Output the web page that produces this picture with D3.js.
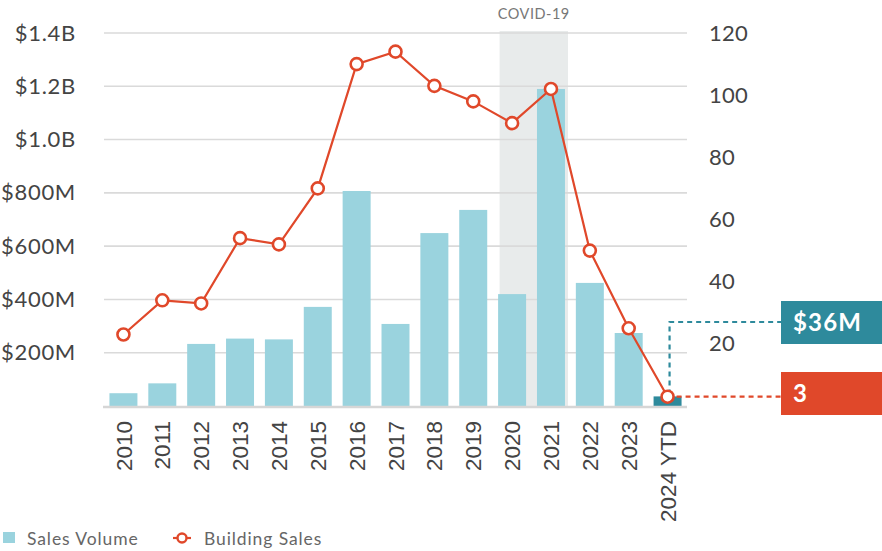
<!DOCTYPE html>
<html>
<head>
<meta charset="utf-8">
<script src="https://cdn.jsdelivr.net/npm/d3@7"></script>
<style>
  body { margin: 0; background: #fff; }
  svg { display: block; }
</style>
</head>
<body>
<svg id="chart" width="882" height="551"></svg>
<script>
// Annual sales volume (USD) and number of building sales
const years = ["2010","2011","2012","2013","2014","2015","2016","2017","2018","2019","2020","2021","2022","2023","2024 YTD"];
const salesVolume = [48e6, 85e6, 233e6, 253e6, 250e6, 372e6, 807e6, 308e6, 649e6, 736e6, 420e6, 1190e6, 462e6, 274e6, 36e6];
const buildingSales = [23, 34, 33, 54, 52, 70, 110, 114, 103, 98, 91, 102, 50, 25, 3];
const volumeTicks = [200e6, 400e6, 600e6, 800e6, 1.0e9, 1.2e9, 1.4e9];
const volumeTickLabels = ["$200M", "$400M", "$600M", "$800M", "$1.0B", "$1.2B", "$1.4B"];
const countTicks = [20, 40, 60, 80, 100, 120];
const covidYears = ["2020", "2021"];
const calloutVolume = "$36M";
const calloutCount = "3";

const svg = d3.select("#chart");
const plotLeft = 104, plotRight = 687, plotTop = 33, plotBottom = 406;

const x = d3.scaleBand().domain(years).range([plotLeft, plotRight]).paddingInner(0.28).paddingOuter(0.14);
const yL = d3.scaleLinear().domain([0, 1.4e9]).range([plotBottom, plotTop]);
const yR = d3.scaleLinear().domain([0, 120]).range([plotBottom, plotTop]);

const barColor = "#9ad3de", lastBarColor = "#2e8a9c", lineColor = "#e0482a";
const tickFont = "Lato, 'Open Sans', sans-serif";

// COVID shading across 2020–2021
const cx0 = x(covidYears[0]) + 1.5, cx1 = x(covidYears[1]) + x.bandwidth() + 3;
svg.append("rect")
  .attr("x", cx0).attr("y", plotTop - 2)
  .attr("width", cx1 - cx0).attr("height", plotBottom - plotTop + 4)
  .attr("fill", "#e8ebeb");
svg.append("text")
  .attr("x", (cx0 + cx1) / 2).attr("y", 18.5)
  .attr("text-anchor", "middle")
  .attr("font-family", tickFont).attr("font-size", 14.5)
  .attr("letter-spacing", 0.5)
  .attr("fill", "#777").text("COVID-19");

// Gridlines
svg.append("g").selectAll("line").data(volumeTicks).join("line")
  .attr("x1", plotLeft).attr("x2", plotRight)
  .attr("y1", d => yL(d)).attr("y2", d => yL(d))
  .attr("stroke", "#dadada").attr("stroke-width", 1.6);

// Left axis labels
const axL = svg.append("g").attr("transform", `translate(${plotLeft},0)`)
  .call(d3.axisLeft(yL).tickValues(volumeTicks).tickFormat((d, i) => volumeTickLabels[i]).tickSize(0).tickPadding(28));
axL.select(".domain").remove();
axL.selectAll("text").attr("font-family", tickFont).attr("font-size", 22)
  .attr("letter-spacing", 0.7).attr("fill", "#444");

// Right axis labels
const axR = svg.append("g").attr("transform", `translate(${plotRight},0)`)
  .call(d3.axisRight(yR).tickValues(countTicks).tickSize(0).tickPadding(22));
axR.select(".domain").remove();
axR.selectAll("text").attr("font-family", tickFont).attr("font-size", 22)
  .attr("letter-spacing", 0.3).attr("fill", "#444");

// Bars
svg.append("g").selectAll("rect").data(years).join("rect")
  .attr("x", d => x(d))
  .attr("y", (d, i) => yL(salesVolume[i]))
  .attr("width", x.bandwidth())
  .attr("height", (d, i) => plotBottom - yL(salesVolume[i]))
  .attr("fill", (d, i) => i === years.length - 1 ? lastBarColor : barColor);

// Baseline
svg.append("line")
  .attr("x1", plotLeft - 1).attr("x2", plotRight)
  .attr("y1", plotBottom + 1).attr("y2", plotBottom + 1)
  .attr("stroke", "#d6d6d6").attr("stroke-width", 2.4);

// X axis labels (rotated)
const axB = svg.append("g").attr("transform", `translate(0,${plotBottom})`)
  .call(d3.axisBottom(x).tickSize(0).tickPadding(0));
axB.select(".domain").remove();
axB.selectAll("text")
  .attr("font-family", "'Liberation Sans', Arial, sans-serif")
  .attr("font-size", 22.5).attr("fill", "#444")
  .attr("transform", "rotate(-90)")
  .attr("text-anchor", "end")
  .attr("dy", "0.36em")
  .attr("x", -15).attr("y", 0);

// Callout connectors for the latest year
const lastIdx = years.length - 1;
const lastX = x(years[lastIdx]) + x.bandwidth() / 2;
const boxX = 781;
const volBoxY = 301, cntBoxY = 372, boxH = 43;
const volLineY = 322;
svg.append("path")
  .attr("d", `M${lastX + 2},${yL(salesVolume[lastIdx]) - 2} V${volLineY} H${boxX}`)
  .attr("fill", "none").attr("stroke", lastBarColor)
  .attr("stroke-width", 2.2).attr("stroke-dasharray", "5,4");
svg.append("path")
  .attr("d", `M${lastX},${yR(buildingSales[lastIdx])} H${boxX}`)
  .attr("fill", "none").attr("stroke", lineColor)
  .attr("stroke-width", 2.2).attr("stroke-dasharray", "5,4");

// Building sales line
const line = d3.line()
  .x((d, i) => x(years[i]) + x.bandwidth() / 2)
  .y(d => yR(d));
svg.append("path").datum(buildingSales)
  .attr("d", line).attr("fill", "none")
  .attr("stroke", lineColor).attr("stroke-width", 2.2);
svg.append("g").selectAll("circle").data(buildingSales).join("circle")
  .attr("cx", (d, i) => x(years[i]) + x.bandwidth() / 2)
  .attr("cy", d => yR(d))
  .attr("r", 6)
  .attr("fill", "#fff").attr("stroke", lineColor).attr("stroke-width", 2.6);

// Callout boxes
svg.append("rect").attr("x", boxX).attr("y", volBoxY).attr("width", 882 - boxX).attr("height", boxH).attr("fill", lastBarColor);
svg.append("text").attr("x", boxX + 12).attr("y", volBoxY + boxH / 2).attr("dy", "0.36em")
  .attr("font-family", tickFont).attr("font-weight", 700).attr("font-size", 24)
  .attr("letter-spacing", 1.2).attr("fill", "#fff").text(calloutVolume);
svg.append("rect").attr("x", boxX).attr("y", cntBoxY).attr("width", 882 - boxX).attr("height", boxH).attr("fill", lineColor);
svg.append("text").attr("x", boxX + 12).attr("y", cntBoxY + boxH / 2).attr("dy", "0.36em")
  .attr("font-family", tickFont).attr("font-weight", 700).attr("font-size", 24)
  .attr("letter-spacing", 1.2).attr("fill", "#fff").text(calloutCount);

// Legend
const lg = svg.append("g");
lg.append("rect").attr("x", 3).attr("y", 532).attr("width", 12).attr("height", 11).attr("fill", barColor);
lg.append("text").attr("x", 27).attr("y", 545)
  .attr("font-family", tickFont).attr("font-size", 17.5).attr("letter-spacing", 0.9)
  .attr("fill", "#666").text("Sales Volume");
lg.append("line").attr("x1", 173).attr("x2", 191).attr("y1", 538).attr("y2", 538)
  .attr("stroke", lineColor).attr("stroke-width", 2.2);
lg.append("circle").attr("cx", 182).attr("cy", 538).attr("r", 4.5)
  .attr("fill", "#fff").attr("stroke", lineColor).attr("stroke-width", 2.4);
lg.append("text").attr("x", 204).attr("y", 545)
  .attr("font-family", tickFont).attr("font-size", 17.5).attr("letter-spacing", 0.9)
  .attr("fill", "#666").text("Building Sales");
</script>
</body>
</html>
